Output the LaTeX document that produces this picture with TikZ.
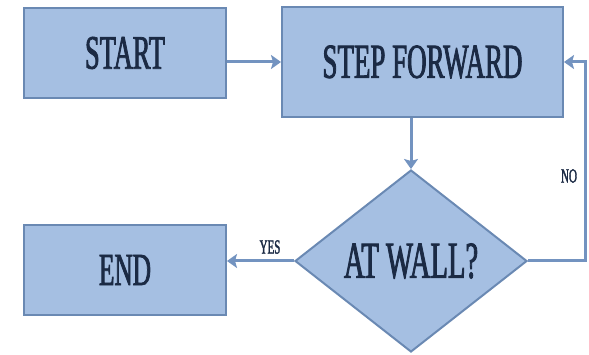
\documentclass[tikz,border=0pt]{standalone}
\usepackage{fontspec}
\usepackage{xcolor}
\usepackage{tikz}
\usetikzlibrary{arrows.meta,shapes.geometric,positioning,calc}
\newfontfamily\flowfont[FakeStretch=0.55,FakeBold=1.6]{Liberation Serif}
\definecolor{boxfill}{HTML}{A5BFE2}
\definecolor{boxline}{HTML}{6A89B3}
\definecolor{flowline}{HTML}{7393C0}
\definecolor{flowtext}{HTML}{1B2A44}

\begin{document}
\begin{tikzpicture}[x=1pt, y=-1pt,
  block/.style={draw=boxline, line width=2pt, fill=boxfill, text=flowtext, inner sep=0pt},
  flow/.style={draw=flowline, line width=3pt, -{Stealth[length=10pt,width=14pt,inset=2pt]}},
  tag/.style={text=flowtext, font=\flowfont\fontsize{20}{22}\selectfont}]
  \useasboundingbox (0,0) rectangle (589,355);
  \node[block, minimum width=202pt, minimum height=90pt, font=\flowfont\fontsize{48}{52}\selectfont] (start) at (125,53) {START};
  \node[block, minimum width=281pt, minimum height=110pt, font=\flowfont\fontsize{49}{52}\selectfont] (step) at (422.5,62) {STEP FORWARD};
  \node[block, diamond, minimum width=232pt, minimum height=182pt, aspect=1.27, font=\flowfont\fontsize{52}{56}\selectfont] (wall) at (411,261) {AT WALL?};
  \node[block, minimum width=202pt, minimum height=90pt, font=\flowfont\fontsize{46}{50}\selectfont] (end) at (125,270) {END};
  \draw[flow] (start.east |- step.west) -- (step.west);
  \draw[flow] (step.south -| wall.north) -- (wall.north);
  \draw[flow] (wall.east) -- ++(57,0) |- (step.east);
  \draw[flow] (wall.west) -- (wall.west -| end.east);
  \node[tag] (yes) at (270,247) {YES};
  \node[tag] (no) at (569,176) {NO};
\end{tikzpicture}
\end{document}
